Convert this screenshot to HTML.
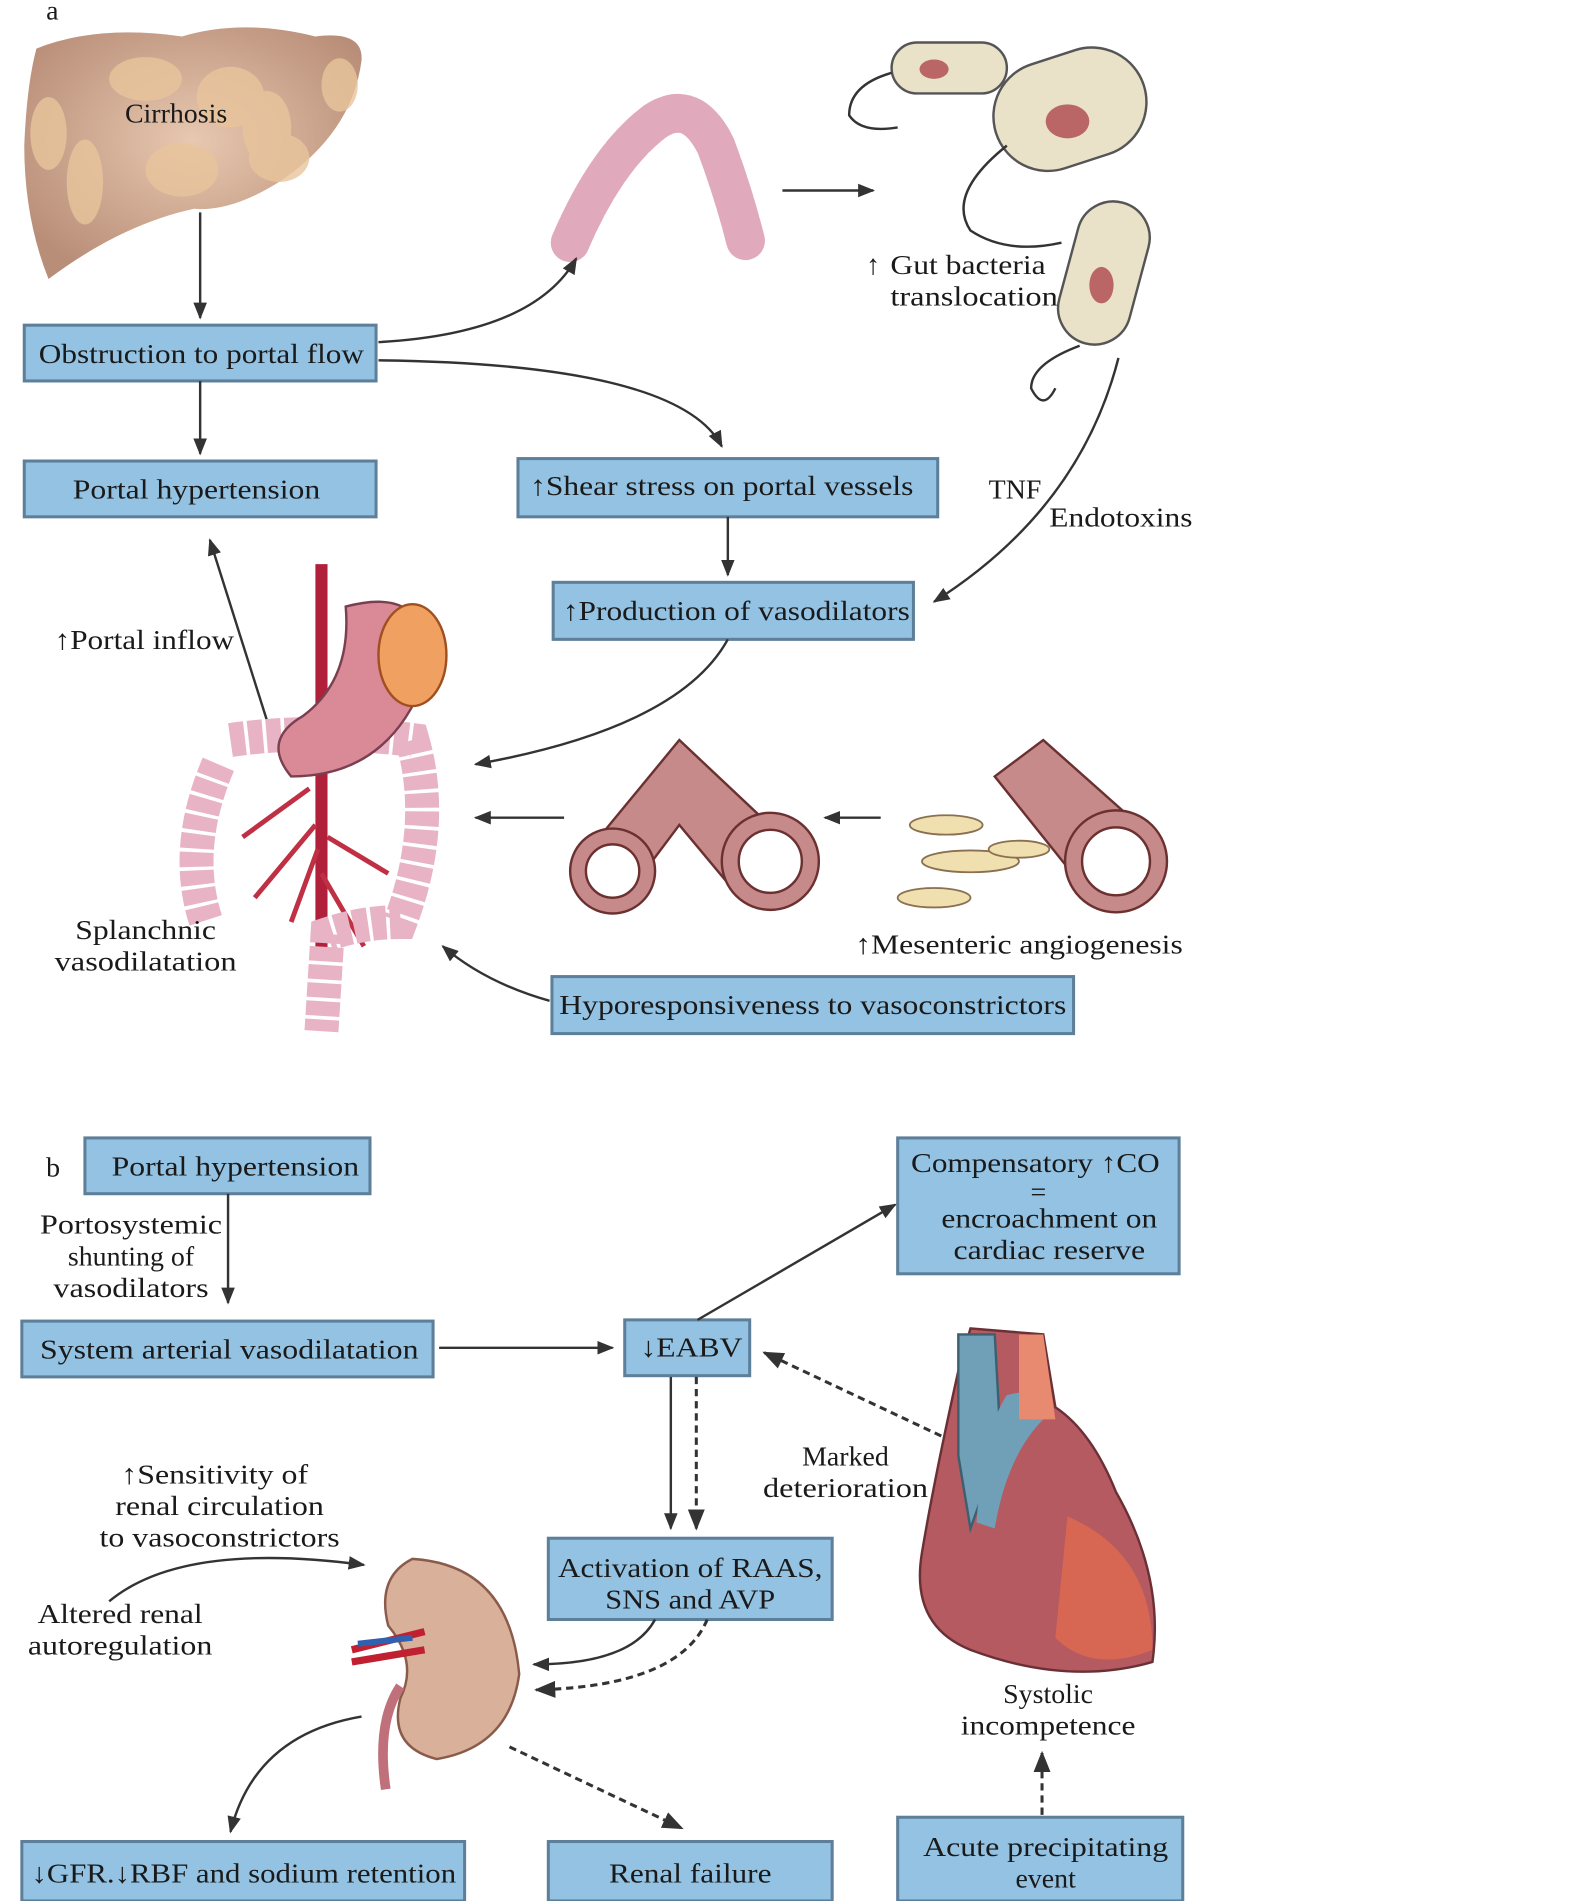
<!DOCTYPE html>
<html><head><meta charset="utf-8"><style>
html,body{margin:0;padding:0;background:#fff}
svg{display:block}
text{font-family:"Liberation Serif",serif;font-size:23px;fill:#1a1a1a}
.b{fill:#93c2e2;stroke:#5d7f99;stroke-width:2.5}
.l{stroke:#333;stroke-width:2;fill:none}
.d{stroke:#333;stroke-width:2.5;fill:none;stroke-dasharray:6 4}
</style></head><body>
<svg width="1577" height="1901" viewBox="0 0 1300 1567" xmlns="http://www.w3.org/2000/svg">
<defs>
<marker id="a" viewBox="0 0 10 10" refX="9" refY="5" markerWidth="7" markerHeight="7" orient="auto-start-reverse"><path d="M0,1 L10,5 L0,9 z" fill="#333"/></marker>
<radialGradient id="lv" cx="0.5" cy="0.45" r="0.6"><stop offset="0" stop-color="#e8c8b0"/><stop offset="1" stop-color="#b98e78"/></radialGradient>
</defs>
<text x="38" y="16">a</text>
<!-- liver -->
<path d="M30,40 Q80,20 150,30 Q200,15 260,30 Q300,25 298,50 Q290,110 230,150 Q190,175 160,172 Q100,185 40,230 Q20,180 20,120 Q22,70 30,40z" fill="url(#lv)"/>
<g fill="#e8c59c" opacity="0.8"><ellipse cx="120" cy="65" rx="30" ry="18"/><ellipse cx="190" cy="80" rx="28" ry="25"/><ellipse cx="40" cy="110" rx="15" ry="30"/><ellipse cx="70" cy="150" rx="15" ry="35"/><ellipse cx="150" cy="140" rx="30" ry="22"/><ellipse cx="230" cy="130" rx="25" ry="20"/><ellipse cx="280" cy="70" rx="15" ry="22"/><ellipse cx="220" cy="105" rx="20" ry="30"/></g>
<text x="103" y="101">Cirrhosis</text>
<!-- colon top -->
<path d="M470,200 Q500,130 540,100 Q570,80 590,120 Q605,160 615,200" stroke="#e0a9bc" stroke-width="32" fill="none" stroke-linecap="round" stroke-dasharray="14 3"/>
<!-- bacteria -->
<g stroke="#555" stroke-width="2">
<rect x="735" y="35" width="95" height="42" rx="21" fill="#e9e1c8"/>
<rect x="818" y="45" width="128" height="90" rx="45" fill="#e9e1c8" transform="rotate(-18 882 90)"/>
<rect x="880" y="165" width="60" height="120" rx="30" fill="#e9e1c8" transform="rotate(15 910 225)"/>
</g>
<ellipse cx="770" cy="57" rx="12" ry="8" fill="#b66"/><ellipse cx="880" cy="100" rx="18" ry="14" fill="#b66"/><ellipse cx="908" cy="235" rx="10" ry="15" fill="#b66"/>
<path d="M735,60 Q700,70 700,95 Q710,110 740,105" class="l" stroke="#b66"/>
<path d="M830,120 Q780,160 800,190 Q830,210 875,200" class="l" stroke="#b66"/>
<path d="M890,285 Q850,300 850,320 Q860,340 870,320" class="l" stroke="#b66"/>
<line x1="645" y1="157" x2="720" y2="157" class="l" marker-end="url(#a)"/>
<text x="714" y="226">↑</text><text x="734" y="226" textLength="128" lengthAdjust="spacingAndGlyphs">Gut bacteria</text><text x="734" y="252" textLength="138" lengthAdjust="spacingAndGlyphs">translocation</text>
<!-- boxes part a -->
<rect class="b" x="20" y="268" width="290" height="46"/><text x="32" y="299" textLength="268" lengthAdjust="spacingAndGlyphs">Obstruction to portal flow</text>
<rect class="b" x="20" y="380" width="290" height="46"/><text x="60" y="411" textLength="204" lengthAdjust="spacingAndGlyphs">Portal hypertension</text>
<rect class="b" x="427" y="378" width="346" height="48"/><text x="437" y="408" textLength="316" lengthAdjust="spacingAndGlyphs">↑Shear stress on portal vessels</text>
<rect class="b" x="456" y="480" width="297" height="47"/><text x="464" y="511" textLength="286" lengthAdjust="spacingAndGlyphs">↑Production of vasodilators</text>
<rect class="b" x="455" y="805" width="430" height="47"/><text x="461" y="836" textLength="418" lengthAdjust="spacingAndGlyphs">Hyporesponsiveness to vasoconstrictors</text>
<line x1="165" y1="175" x2="165" y2="262" class="l" marker-end="url(#a)"/>
<line x1="165" y1="314" x2="165" y2="374" class="l" marker-end="url(#a)"/>
<path d="M312,282 Q440,275 475,213" class="l" marker-end="url(#a)"/>
<path d="M312,297 Q560,300 595,368" class="l" marker-end="url(#a)"/>
<line x1="600" y1="426" x2="600" y2="474" class="l" marker-end="url(#a)"/>
<path d="M922,295 Q890,420 770,496" class="l" marker-end="url(#a)"/>
<text x="815" y="411">TNF</text><text x="865" y="434" textLength="118" lengthAdjust="spacingAndGlyphs">Endotoxins</text>
<path d="M600,527 Q560,600 392,630" class="l" marker-end="url(#a)"/>
<line x1="222" y1="600" x2="173" y2="445" class="l" marker-end="url(#a)"/>
<text x="45" y="535" textLength="148" lengthAdjust="spacingAndGlyphs">↑Portal inflow</text>
<!-- gut -->
<path d="M265,465 L265,790" stroke="#b0203a" stroke-width="10" fill="none"/>
<path d="M255,650 L200,690 M260,680 L210,740 M270,690 L320,720 M265,720 L300,780 M262,700 L240,760" stroke="#c03045" stroke-width="4"/>
<path d="M180,630 Q150,700 170,760 M190,610 Q260,600 340,610 Q360,680 330,760 Q300,760 270,770 L265,850" stroke="#e8b3c4" stroke-width="28" fill="none" stroke-dasharray="12 3"/>
<path d="M285,500 Q360,480 350,560 Q320,640 240,640 Q215,610 250,590 Q290,560 285,500z" fill="#d98a96" stroke="#7a4050" stroke-width="2"/>
<ellipse cx="340" cy="540" rx="28" ry="42" fill="#f0a060" stroke="#a05020" stroke-width="2"/>
<text x="62" y="774" textLength="116" lengthAdjust="spacingAndGlyphs">Splanchnic</text><text x="45" y="800" textLength="150" lengthAdjust="spacingAndGlyphs">vasodilatation</text>
<!-- vessels -->
<g stroke="#6b3030" stroke-width="2">
<path d="M490,695 L560,610 L645,690 L610,740 L560,680 L515,740z" fill="#c78a8a"/>
<circle cx="505" cy="718" r="35" fill="#c78a8a"/><circle cx="505" cy="718" r="22" fill="#fff"/>
<circle cx="635" cy="710" r="40" fill="#c78a8a"/><circle cx="635" cy="710" r="26" fill="#fff"/>
<path d="M820,640 L860,610 L950,690 L900,740z" fill="#c78a8a"/>
<circle cx="920" cy="710" r="42" fill="#c78a8a"/><circle cx="920" cy="710" r="28" fill="#fff"/>
</g>
<g fill="#f0e0b0" stroke="#8a7050" stroke-width="1.5"><ellipse cx="780" cy="680" rx="30" ry="8"/><ellipse cx="800" cy="710" rx="40" ry="9"/><ellipse cx="770" cy="740" rx="30" ry="8"/><ellipse cx="840" cy="700" rx="25" ry="7"/></g>
<line x1="726" y1="674" x2="680" y2="674" class="l" marker-end="url(#a)"/>
<line x1="465" y1="674" x2="392" y2="674" class="l" marker-end="url(#a)"/>
<text x="705" y="786" textLength="270" lengthAdjust="spacingAndGlyphs">↑Mesenteric angiogenesis</text>
<path d="M453,825 Q400,810 365,780" class="l" marker-end="url(#a)"/>
<!-- part b -->
<text x="38" y="970">b</text>
<rect class="b" x="70" y="938" width="235" height="46"/><text x="92" y="969" textLength="204" lengthAdjust="spacingAndGlyphs">Portal hypertension</text>
<text x="108" y="1017" text-anchor="middle" textLength="150" lengthAdjust="spacingAndGlyphs">Portosystemic</text><text x="108" y="1043" text-anchor="middle">shunting of</text><text x="108" y="1069" text-anchor="middle" textLength="128" lengthAdjust="spacingAndGlyphs">vasodilators</text>
<line x1="188" y1="984" x2="188" y2="1074" class="l" marker-end="url(#a)"/>
<rect class="b" x="18" y="1089" width="339" height="46"/><text x="33" y="1120" textLength="312" lengthAdjust="spacingAndGlyphs">System arterial vasodilatation</text>
<rect class="b" x="515" y="1088" width="103" height="46"/><text x="528" y="1118" textLength="84" lengthAdjust="spacingAndGlyphs">↓EABV</text>
<rect class="b" x="740" y="938" width="232" height="112"/>
<text x="751" y="966" textLength="205" lengthAdjust="spacingAndGlyphs">Compensatory ↑CO</text><text x="856" y="990" text-anchor="middle">=</text><text x="865" y="1012" text-anchor="middle" textLength="178" lengthAdjust="spacingAndGlyphs">encroachment on</text><text x="865" y="1038" text-anchor="middle" textLength="158" lengthAdjust="spacingAndGlyphs">cardiac reserve</text>
<line x1="362" y1="1111" x2="505" y2="1111" class="l" marker-end="url(#a)"/>
<line x1="575" y1="1088" x2="738" y2="993" class="l" marker-end="url(#a)"/>
<line x1="553" y1="1135" x2="553" y2="1260" class="l" marker-end="url(#a)"/>
<line x1="574" y1="1135" x2="574" y2="1260" class="d" marker-end="url(#a)"/>
<line x1="785" y1="1188" x2="630" y2="1115" class="d" marker-end="url(#a)"/>
<text x="697" y="1208" text-anchor="middle">Marked</text><text x="697" y="1234" text-anchor="middle" textLength="136" lengthAdjust="spacingAndGlyphs">deterioration</text>
<rect class="b" x="452" y="1268" width="234" height="67"/><text x="569" y="1300" text-anchor="middle" textLength="218" lengthAdjust="spacingAndGlyphs">Activation of RAAS,</text><text x="569" y="1326" text-anchor="middle" textLength="140" lengthAdjust="spacingAndGlyphs">SNS and AVP</text>
<!-- heart -->
<path d="M790,1130 Q770,1220 760,1280 Q750,1340 800,1360 Q880,1390 950,1370 Q960,1300 920,1230 Q900,1180 870,1160 L860,1100 L800,1095z" fill="#b55a60" stroke="#6a3035" stroke-width="2"/>
<path d="M790,1100 L820,1100 L825,1190 L800,1260 L790,1200z" fill="#6fa0b8" stroke="#3d6070" stroke-width="2"/>
<path d="M830,1150 Q870,1140 860,1170 Q830,1200 820,1260 L805,1255 Q810,1180 830,1150z" fill="#6fa0b8"/>
<path d="M840,1100 L860,1100 L870,1170 L840,1170z" fill="#e88a70"/>
<path d="M880,1250 Q950,1280 950,1360 Q900,1380 870,1350z" fill="#e06a50" opacity="0.8"/>
<text x="864" y="1404" text-anchor="middle">Systolic</text><text x="864" y="1430" text-anchor="middle" textLength="144" lengthAdjust="spacingAndGlyphs">incompetence</text>
<line x1="859" y1="1496" x2="859" y2="1445" class="d" marker-end="url(#a)"/>
<!-- kidney -->
<text x="100" y="1223" textLength="154" lengthAdjust="spacingAndGlyphs">↑Sensitivity of</text><text x="181" y="1249" text-anchor="middle" textLength="172" lengthAdjust="spacingAndGlyphs">renal circulation</text><text x="181" y="1275" text-anchor="middle" textLength="198" lengthAdjust="spacingAndGlyphs">to vasoconstrictors</text>
<path d="M90,1320 Q150,1270 300,1290" class="l" marker-end="url(#a)"/>
<text x="99" y="1338" text-anchor="middle" textLength="136" lengthAdjust="spacingAndGlyphs">Altered renal</text><text x="99" y="1364" text-anchor="middle" textLength="152" lengthAdjust="spacingAndGlyphs">autoregulation</text>
<path d="M340,1285 Q420,1290 428,1380 Q420,1440 360,1450 Q320,1440 330,1400 Q345,1370 320,1340 Q310,1300 340,1285z" fill="#d9b09a" stroke="#8a5a4a" stroke-width="2"/>
<path d="M290,1360 L350,1345 M290,1370 L350,1360" stroke="#c02030" stroke-width="6"/><path d="M295,1355 L340,1350" stroke="#3060b0" stroke-width="5"/>
<path d="M330,1390 Q310,1420 318,1475" stroke="#c0707a" stroke-width="8" fill="none"/>
<path d="M540,1335 Q520,1372 440,1372" class="l" marker-end="url(#a)"/>
<path d="M583,1335 Q560,1390 442,1393" class="d" marker-end="url(#a)"/>
<path d="M298,1415 Q210,1430 190,1510" class="l" marker-end="url(#a)"/>
<line x1="420" y1="1440" x2="562" y2="1507" class="d" marker-end="url(#a)"/>
<rect class="b" x="18" y="1518" width="365" height="49"/><text x="26" y="1552" textLength="350" lengthAdjust="spacingAndGlyphs">↓GFR.↓RBF and sodium retention</text>
<rect class="b" x="452" y="1518" width="234" height="49"/><text x="569" y="1552" text-anchor="middle" textLength="134" lengthAdjust="spacingAndGlyphs">Renal failure</text>
<rect class="b" x="740" y="1498" width="235" height="69"/><text x="862" y="1530" text-anchor="middle" textLength="202" lengthAdjust="spacingAndGlyphs">Acute precipitating</text><text x="862" y="1556" text-anchor="middle">event</text>
</svg>
</body></html>
